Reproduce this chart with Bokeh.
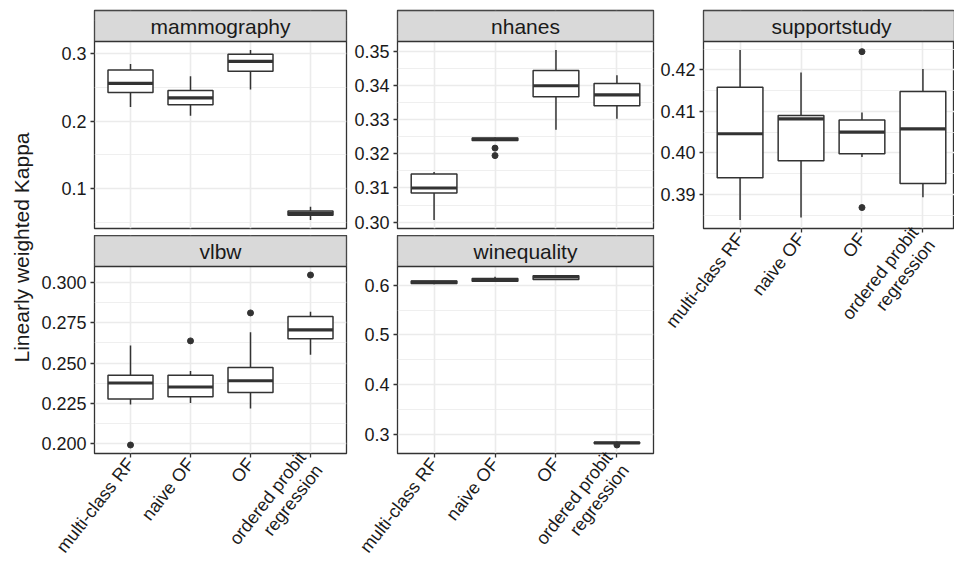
import math
from bokeh.plotting import figure
from bokeh.layouts import row, column
from bokeh.models import Range1d, FixedTicker, ColumnDataSource, Title
from bokeh.core.properties import value
from bokeh.embed import file_html
from bokeh.resources import INLINE

# ---------------- data (box statistics) ----------------
methods = ["multi-class RF", "naive OF", "OF", "ordered probit\nregression"]
y_title = "Linearly weighted Kappa"

mammo_lower = [0.221, 0.208, 0.247, 0.053]
mammo_q1 = [0.2425, 0.2244, 0.2743, 0.0600]
mammo_median = [0.2563, 0.2348, 0.2891, 0.0630]
mammo_q3 = [0.2763, 0.2457, 0.2995, 0.0664]
mammo_upper = [0.285, 0.267, 0.3059, 0.0728]
mammo_out_x = []
mammo_out_y = []
mammo_ticks = [0.1, 0.2, 0.3]
mammo_labels = ["0.1", "0.2", "0.3"]

nhanes_lower = [0.3006, 0.3238, 0.3271, 0.3303]
nhanes_q1 = [0.3085, 0.3239, 0.3368, 0.3341]
nhanes_median = [0.3100, 0.3243, 0.3400, 0.3373]
nhanes_q3 = [0.3141, 0.3247, 0.3445, 0.3407]
nhanes_upper = [0.3147, 0.3248, 0.3505, 0.3431]
nhanes_out_x = [2, 2]
nhanes_out_y = [0.3217, 0.3195]
nhanes_ticks = [0.30, 0.31, 0.32, 0.33, 0.34, 0.35]
nhanes_labels = ["0.30", "0.31", "0.32", "0.33", "0.34", "0.35"]

support_lower = [0.3838, 0.3844, 0.3990, 0.3893]
support_q1 = [0.3940, 0.3981, 0.3998, 0.3926]
support_median = [0.4046, 0.4082, 0.4050, 0.4058]
support_q3 = [0.4158, 0.4090, 0.4079, 0.4148]
support_upper = [0.4248, 0.4194, 0.4097, 0.4202]
support_out_x = [3, 3]
support_out_y = [0.4244, 0.3868]
support_ticks = [0.39, 0.40, 0.41, 0.42]
support_labels = ["0.39", "0.40", "0.41", "0.42"]

vlbw_lower = [0.2242, 0.2252, 0.2217, 0.2552]
vlbw_q1 = [0.2277, 0.2291, 0.2316, 0.2651]
vlbw_median = [0.2376, 0.2351, 0.2390, 0.2707]
vlbw_q3 = [0.2424, 0.2424, 0.2473, 0.2789]
vlbw_upper = [0.2610, 0.2450, 0.2692, 0.2820]
vlbw_out_x = [1, 2, 3, 4]
vlbw_out_y = [0.1990, 0.2638, 0.2812, 0.3048]
vlbw_ticks = [0.200, 0.225, 0.250, 0.275, 0.300]
vlbw_labels = ["0.200", "0.225", "0.250", "0.275", "0.300"]

wine_lower = [0.6025, 0.6070, 0.6110, 0.2810]
wine_q1 = [0.6040, 0.6085, 0.6120, 0.2815]
wine_median = [0.6065, 0.6110, 0.6170, 0.2822]
wine_q3 = [0.6090, 0.6140, 0.6195, 0.2830]
wine_upper = [0.6095, 0.6175, 0.6210, 0.2835]
wine_out_x = [4]
wine_out_y = [0.2780]
wine_ticks = [0.3, 0.4, 0.5, 0.6]
wine_labels = ["0.3", "0.4", "0.5", "0.6"]

# ---------------- styling ----------------
FONT = "Liberation Sans"
DARK = "#333333"
TXT = "#1A1A1A"
GRID = "#EBEBEB"
STRIP_H = 31
PANEL_H = 187
PX_PER_CAT = 256 / 4.2
BOX_W = 0.75
TICK_FS = "18px"
XTICK_FS = "18px"
STRIP_FS = "21px"
XLAB_ANGLE = math.radians(52)
TOTAL_H = 579
TOP = 10
YLAB_W = 38


def panel(name, lower, q1, med, q3, upper, out_x, out_y, ticks, labels,
          frame_w, left, right, top, bottom, show_x):
    cats = list(range(1, len(methods) + 1))
    lo = min(lower + out_y)
    hi = max(upper + out_y)
    span = hi - lo
    y0 = lo - 0.05 * span
    y1 = hi + 0.05 * span
    ytop = y1 + STRIP_H * (y1 - y0) / PANEL_H
    xend = 0.4 + frame_w / PX_PER_CAT

    p = figure(width=left + frame_w + right, height=top + STRIP_H + PANEL_H + bottom,
               x_range=Range1d(0.4, xend), y_range=Range1d(y0, ytop),
               output_backend="svg", toolbar_location=None,
               x_axis_location="below" if show_x else None,
               min_border_left=left, min_border_right=right,
               min_border_top=top, min_border_bottom=bottom)
    p.outline_line_color = DARK
    p.outline_line_width = 1.3
    p.background_fill_color = "white"
    p.border_fill_color = "white"

    step = ticks[1] - ticks[0]
    minor = [t - step / 2 for t in ticks] + [ticks[-1] + step / 2]

    p.xgrid.ticker = FixedTicker(ticks=cats)
    p.xgrid.grid_line_color = GRID
    p.xgrid.grid_line_width = 1.6
    p.ygrid.ticker = FixedTicker(ticks=ticks, minor_ticks=minor)
    p.ygrid.grid_line_color = GRID
    p.ygrid.grid_line_width = 1.6
    p.ygrid.minor_grid_line_color = GRID
    p.ygrid.minor_grid_line_width = 0.8

    ya = p.yaxis[0]
    ya.ticker = FixedTicker(ticks=ticks)
    ya.major_label_overrides = dict(zip(ticks, labels))
    ya.axis_line_color = None
    ya.major_tick_line_color = DARK
    ya.major_tick_line_width = 1.3
    ya.major_tick_out = 4
    ya.major_tick_in = 0
    ya.minor_tick_line_color = None
    ya.major_label_standoff = 4
    ya.major_label_text_font = FONT
    ya.major_label_text_font_size = TICK_FS
    ya.major_label_text_color = TXT

    if show_x:
        xa = p.xaxis[0]
        xa.ticker = FixedTicker(ticks=cats)
        xa.major_label_overrides = dict(zip(cats, methods))
        xa.axis_line_color = None
        xa.major_tick_line_color = DARK
        xa.major_tick_line_width = 1.3
        xa.major_tick_out = 4
        xa.major_tick_in = 0
        xa.minor_tick_line_color = None
        xa.major_label_standoff = 3
        xa.major_label_orientation = XLAB_ANGLE
        xa.major_label_text_font = FONT
        xa.major_label_text_font_size = XTICK_FS
        xa.major_label_text_line_height = 1.05
        xa.major_label_text_color = TXT

    src = ColumnDataSource(dict(
        x=cats, lower=lower, q1=q1, med=med, q3=q3, upper=upper,
        xl=[c - BOX_W / 2 for c in cats], xr=[c + BOX_W / 2 for c in cats]))
    p.segment(x0="x", y0="q3", x1="x", y1="upper", source=src,
              line_color=DARK, line_width=1.5)
    p.segment(x0="x", y0="q1", x1="x", y1="lower", source=src,
              line_color=DARK, line_width=1.5)
    p.vbar(x="x", width=BOX_W, bottom="q1", top="q3", source=src,
           fill_color="white", line_color=DARK, line_width=1.5)
    p.segment(x0="xl", y0="med", x1="xr", y1="med", source=src,
              line_color=DARK, line_width=3.2, line_cap="butt")
    if out_x:
        p.scatter(x=out_x, y=out_y, size=6, fill_color=DARK, line_color=DARK)

    # facet strip
    p.quad(left=[0.4], right=[xend], bottom=[y1], top=[ytop],
           fill_color="#D9D9D9", line_color=DARK, line_width=1.3)
    p.text(x=[(0.4 + 4.6) / 2], y=[(y1 + ytop) / 2], text=[name],
           text_align="center", text_baseline="middle",
           text_font=value(FONT), text_font_size=STRIP_FS, text_color=TXT)
    return p


ROW1_H = TOP + STRIP_H + PANEL_H + 7          # 235
ROW2_BOTTOM = TOTAL_H - ROW1_H - STRIP_H - PANEL_H
FRAME1_BOTTOM = TOP + STRIP_H + PANEL_H       # 228

p_mammo = panel("mammography", mammo_lower, mammo_q1, mammo_median, mammo_q3, mammo_upper,
                mammo_out_x, mammo_out_y, mammo_ticks, mammo_labels,
                256, 52, 2, TOP, 7, False)
p_vlbw = panel("vlbw", vlbw_lower, vlbw_q1, vlbw_median, vlbw_q3, vlbw_upper,
               vlbw_out_x, vlbw_out_y, vlbw_ticks, vlbw_labels,
               256, 52, 2, 0, ROW2_BOTTOM, True)
p_nhanes = panel("nhanes", nhanes_lower, nhanes_q1, nhanes_median, nhanes_q3, nhanes_upper,
                 nhanes_out_x, nhanes_out_y, nhanes_ticks, nhanes_labels,
                 256, 49, 2, TOP, 7, False)
p_wine = panel("winequality", wine_lower, wine_q1, wine_median, wine_q3, wine_upper,
               wine_out_x, wine_out_y, wine_ticks, wine_labels,
               256, 49, 2, 0, ROW2_BOTTOM, True)
p_support = panel("supportstudy", support_lower, support_q1, support_median, support_q3,
                  support_upper, support_out_x, support_out_y, support_ticks, support_labels,
                  251, 48, 0, TOP, TOTAL_H - FRAME1_BOTTOM, True)

# shared y-axis title: a left-side Title of a narrow canvas whose frame lines up
# with the first facet row; the text is started lower so it spans both rows
p_ylab = figure(width=YLAB_W, height=TOTAL_H,
                x_range=Range1d(0, 1), y_range=Range1d(0, 1),
                output_backend="svg", toolbar_location=None,
                x_axis_location=None, y_axis_location=None,
                min_border_left=32, min_border_right=0,
                min_border_top=TOP, min_border_bottom=TOTAL_H - FRAME1_BOTTOM)
p_ylab.outline_line_color = None
p_ylab.grid.visible = False
p_ylab.border_fill_color = "white"
p_ylab.background_fill_color = "white"
p_ylab.add_layout(Title(text=y_title, align="left", offset=FRAME1_BOTTOM - 362,
                        standoff=0, vertical_align="bottom",
                        text_font=FONT, text_font_size="21px",
                        text_font_style="normal", text_color=TXT), "left")

layout = row(p_ylab, column(p_mammo, p_vlbw), column(p_nhanes, p_wine), p_support)

open("out.html", "w").write(file_html(layout, INLINE))
